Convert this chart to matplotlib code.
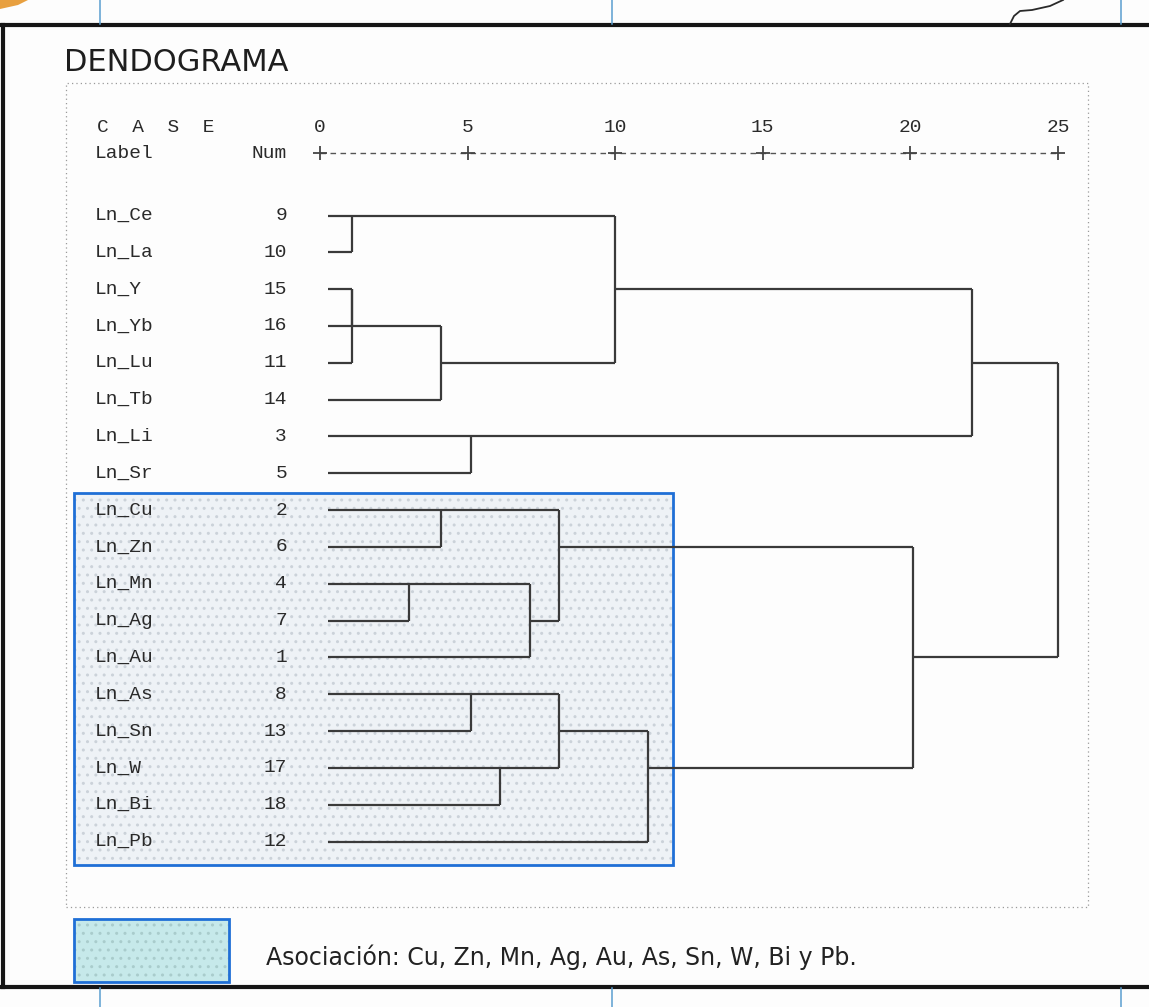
import math
import matplotlib
matplotlib.use("Agg")
import matplotlib.pyplot as plt
from matplotlib.patches import Rectangle, Polygon
from matplotlib.lines import Line2D
from matplotlib.transforms import blended_transform_factory as btf

# ---------------- data ----------------
labels = ["Ln_Ce", "Ln_La", "Ln_Y", "Ln_Yb", "Ln_Lu", "Ln_Tb", "Ln_Li", "Ln_Sr",
          "Ln_Cu", "Ln_Zn", "Ln_Mn", "Ln_Ag", "Ln_Au", "Ln_As", "Ln_Sn", "Ln_W",
          "Ln_Bi", "Ln_Pb"]
case_nums = [9, 10, 15, 16, 11, 14, 3, 5, 2, 6, 4, 7, 1, 8, 13, 17, 18, 12]

# agglomeration schedule: clusters a and b joined at rescaled distance h
# (ids 0..17 are leaves in display order, new clusters get ids 18, 19, ...)
merge_a = [0, 2, 19, 10, 20, 8, 6, 13, 15, 21, 23, 25, 18, 29, 28, 30, 33]
merge_b = [1, 3, 4, 11, 5, 9, 7, 14, 16, 12, 27, 26, 22, 17, 31, 24, 32]
merge_h = [1.1, 1.1, 1.1, 3.0, 4.1, 4.1, 5.1, 5.1, 6.1, 7.1, 8.1, 8.1,
           10.0, 11.1, 20.1, 22.1, 25.0]

scale_ticks = [0, 5, 10, 15, 20, 25]
title = "DENDOGRAMA"
legend_text = "Asociación: Cu, Zn, Mn, Ag, Au, As, Sn, W, Bi y Pb."

# ---------------- figure ----------------
W, H = 1149, 1007
fig = plt.figure(figsize=(W / 100, H / 100), dpi=100)
fig.patch.set_facecolor("#fdfdfd")


def fx(x):
    return x / W


def fy(y):
    return 1 - y / H


LINE_C = "#3a3a3a"
MONO = "Liberation Mono"
TXT_C = "#2a2a2a"
FS = 14

# dendrogram axes: x = rescaled distance, y = row
x0_px, x25_px = 320, 1058
row0_px, row17_px = 215.5, 841.5
step = (row17_px - row0_px) / 17
top_px = row0_px - step / 2
bot_px = row17_px + step / 2
ax = fig.add_axes([fx(x0_px), fy(bot_px), fx(x25_px) - fx(x0_px), fy(top_px) - fy(bot_px)])
ax.set_xlim(0, 25)
ax.set_ylim(17.5, -0.5)
ax.axis("off")
ax.patch.set_alpha(0)

LEAF_START = 0.27
n = len(labels)
pos = {i: (LEAF_START, i) for i in range(n)}
nid = n
for a, b, h in zip(merge_a, merge_b, merge_h):
    xa, ra = pos[a]
    xb, rb = pos[b]
    kw = dict(color=LINE_C, lw=1.6, solid_capstyle="butt", clip_on=False)
    if h > xa:
        ax.plot([xa, h], [ra, ra], **kw)
    if h > xb:
        ax.plot([xb, h], [rb, rb], **kw)
    ax.plot([h, h], [ra, rb], **kw)
    pos[nid] = (h, math.floor((ra + rb) / 2))
    nid += 1

# row labels
tr_rows = btf(fig.transFigure, ax.transData)
for i, (lab, num) in enumerate(zip(labels, case_nums)):
    fig.text(fx(95), i, lab, transform=tr_rows, family=MONO, fontsize=FS,
             color=TXT_C, va="center", ha="left")
    fig.text(fx(287), i, str(num), transform=tr_rows, family=MONO, fontsize=FS,
             color=TXT_C, va="center", ha="right")

# header scale
tr_head = btf(ax.transData, fig.transFigure)
for t in scale_ticks:
    fig.text(t, fy(127), str(t), transform=tr_head, family=MONO, fontsize=FS,
             color=TXT_C, va="center", ha="center")
fig.add_artist(Line2D([0, 25], [fy(153), fy(153)], transform=tr_head, color="#555555",
                      lw=1.0, dashes=(4, 3.2)))
fig.add_artist(Line2D(scale_ticks, [fy(153)] * len(scale_ticks), transform=tr_head,
                      ls="none", marker="+", ms=10, mew=1.3, color="#444444"))
fig.text(fx(97), fy(127), "C  A  S  E", family=MONO, fontsize=FS, color=TXT_C,
         va="center", ha="left")
fig.text(fx(95), fy(153), "Label", family=MONO, fontsize=FS, color=TXT_C,
         va="center", ha="left")
fig.text(fx(287), fy(153), "Num", family=MONO, fontsize=FS, color=TXT_C,
         va="center", ha="right")

# title
fig.text(fx(64), fy(71), title, family="DejaVu Sans", fontsize=22, color="#1e1e1e",
         va="baseline", ha="left")

# highlight box (association)
bx0, by0, bx1, by1 = 74, 493, 673, 865
fig.add_artist(Rectangle((fx(bx0), fy(by1)), fx(bx1) - fx(bx0), fy(by0) - fy(by1),
                         transform=fig.transFigure, facecolor="#eef2f6", edgecolor="none",
                         zorder=-3))
fig.add_artist(Rectangle((fx(bx0), fy(by1)), fx(bx1) - fx(bx0), fy(by0) - fy(by1),
                         transform=fig.transFigure, facecolor="none", edgecolor="#cbd2d9",
                         hatch="..", lw=0, zorder=-2))
fig.add_artist(Rectangle((fx(bx0), fy(by1)), fx(bx1) - fx(bx0), fy(by0) - fy(by1),
                         transform=fig.transFigure, facecolor="none", edgecolor="#1f6fd6",
                         lw=2.0, zorder=-1))

# dotted inner frame
fig.add_artist(Rectangle((fx(66), fy(907)), fx(1088) - fx(66), fy(83) - fy(907),
                         transform=fig.transFigure, facecolor="none", edgecolor="#9a9a9a",
                         lw=0.9, ls=(0, (1, 2.5)), zorder=-1))

# legend swatch + text
lx0, ly0, lx1, ly1 = 74, 919, 229, 982
fig.add_artist(Rectangle((fx(lx0), fy(ly1)), fx(lx1) - fx(lx0), fy(ly0) - fy(ly1),
                         transform=fig.transFigure, facecolor="#c6e9ea", edgecolor="none",
                         zorder=-3))
fig.add_artist(Rectangle((fx(lx0), fy(ly1)), fx(lx1) - fx(lx0), fy(ly0) - fy(ly1),
                         transform=fig.transFigure, facecolor="none", edgecolor="#a9cccc",
                         hatch="..", lw=0, zorder=-2))
fig.add_artist(Rectangle((fx(lx0), fy(ly1)), fx(lx1) - fx(lx0), fy(ly0) - fy(ly1),
                         transform=fig.transFigure, facecolor="none", edgecolor="#1f6fd6",
                         lw=2.0, zorder=-1))
fig.text(fx(266), fy(957), legend_text, family="DejaVu Sans", fontsize=17,
         color="#222222", va="center", ha="left")

# outer page frame and scan decorations
frame_kw = dict(transform=fig.transFigure, color="#151515", lw=3)
fig.add_artist(Line2D([0, 1], [fy(25), fy(25)], **frame_kw))
fig.add_artist(Line2D([0, 1], [fy(987), fy(987)], **frame_kw))
fig.add_artist(Line2D([fx(3), fx(3)], [fy(25), fy(987)], **frame_kw))
for xb in (100, 612, 1121):
    fig.add_artist(Line2D([fx(xb), fx(xb)], [1, fy(24)], transform=fig.transFigure,
                          color="#5a9fd0", lw=1.1))
    fig.add_artist(Line2D([fx(xb), fx(xb)], [fy(988), 0], transform=fig.transFigure,
                          color="#5a9fd0", lw=1.1))
fig.add_artist(Line2D([fx(1010), fx(1014), fx(1020), fx(1032), fx(1050), fx(1063)],
                      [fy(24), fy(16), fy(11), fy(10), fy(6), fy(0)],
                      transform=fig.transFigure, color="#2a2a2a", lw=1.3))
fig.add_artist(Polygon([(0, 1), (fx(28), 1), (fx(18), fy(5)), (0, fy(9))],
                       closed=True, transform=fig.transFigure, facecolor="#e8a040",
                       edgecolor="none"))

fig.savefig("out.png", dpi=100, facecolor=fig.get_facecolor())
